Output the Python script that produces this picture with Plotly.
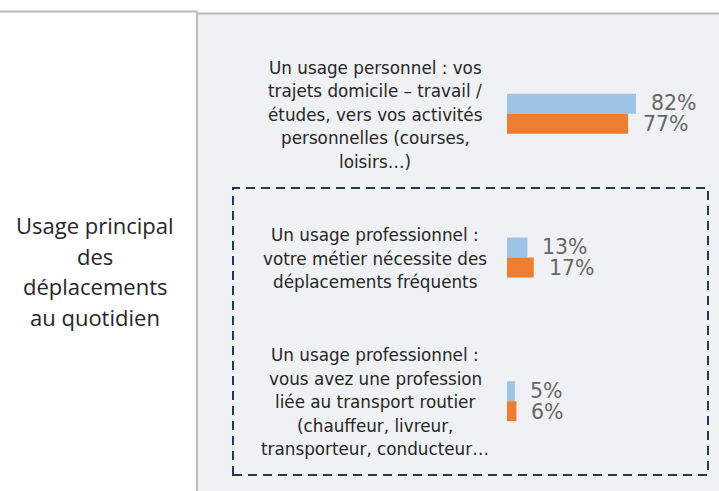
import plotly.graph_objects as go

categories = [
    "Un usage personnel : vos\ntrajets domicile – travail /\nétudes, vers vos activités\npersonnelles (courses,\nloisirs…)",
    "Un usage professionnel :\nvotre métier nécessite des\ndéplacements fréquents",
    "Un usage professionnel :\nvous avez une profession\nliée au transport routier\n(chauffeur, livreur,\ntransporteur, conducteur…",
]
series_a = [82, 13, 5]   # light blue
series_b = [77, 17, 6]   # orange
row_title = "Usage principal\ndes\ndéplacements\nau quotidien"

W, H = 719, 491
BLUE = "#9DC3E6"
ORANGE = "#ED7D31"
TXT = "#262626"
VAL = "#666666"
CAT_FONT = "DejaVu Sans"
VAL_FONT = "DejaVu Sans"

fig = go.Figure()
for vals, col in [(series_a, BLUE), (series_b, ORANGE)]:
    fig.add_trace(go.Bar(
        x=vals, y=categories, orientation="h",
        marker=dict(color=col, line=dict(width=0)),
        hoverinfo="skip",
    ))

# value labels
for vals, shift in [(series_a, 10.5), (series_b, -10.5)]:
    for v, c in zip(vals, categories):
        fig.add_annotation(
            x=v, y=c, xref="x", yref="y", text=f"{v}%", showarrow=False,
            xanchor="left", yanchor="middle", xshift=13, yshift=shift,
            font=dict(family=VAL_FONT, size=20.5, color=VAL),
        )

# category labels, one annotation per line
LINE = 23.5
for c in categories:
    lines = c.split("\n")
    n = len(lines)
    for i, ln in enumerate(lines):
        off = (i - (n - 1) / 2) * LINE
        fig.add_annotation(
            x=375 / W, y=c, xref="paper", yref="y", text=ln, showarrow=False,
            xanchor="center", yanchor="middle", yshift=-off - 1,
            font=dict(family=CAT_FONT, size=16.8, color=TXT),
        )

# row title
tl = row_title.split("\n")
for i, ln in enumerate(tl):
    ypx = 271 + (i - (len(tl) - 1) / 2) * 30.5
    fig.add_annotation(
        x=95 / W, y=1 - ypx / H, xref="paper", yref="paper", text=ln,
        showarrow=False, xanchor="center", yanchor="middle",
        font=dict(family="Open Sans", size=22, color=TXT),
    )

def px(x):
    return x / W

def py(y):
    return 1 - y / H

shapes = [
    # grey panel
    dict(type="rect", xref="paper", yref="paper", x0=px(197), x1=1, y0=0, y1=py(14),
         fillcolor="#F0F1F4", line=dict(width=0), layer="below"),
    # top borders
    dict(type="line", xref="paper", yref="paper", x0=0, x1=px(197), y0=py(11.5), y1=py(11.5),
         line=dict(color="#B7B7B7", width=2)),
    dict(type="line", xref="paper", yref="paper", x0=px(197), x1=1, y0=py(13.5), y1=py(13.5),
         line=dict(color="#B7B7B7", width=2)),
    # vertical separator
    dict(type="line", xref="paper", yref="paper", x0=px(197), x1=px(197), y0=0, y1=py(11),
         line=dict(color="#BDBDBD", width=2)),
    # dashed box
    dict(type="rect", xref="paper", yref="paper", x0=px(233), x1=px(708), y0=py(475), y1=py(188),
         line=dict(color="#203A55", width=2, dash="9px,6px"), fillcolor="rgba(0,0,0,0)"),
]

x0px = 507
pxper = 1.573
fig.update_layout(
    width=W, height=H,
    margin=dict(l=0, r=0, t=0, b=0, autoexpand=False),
    paper_bgcolor="white", plot_bgcolor="rgba(0,0,0,0)",
    barmode="group", bargap=0.722, bargroupgap=0,
    showlegend=False,
    shapes=shapes,
    xaxis=dict(domain=[x0px / W, 1], range=[0, (W - x0px) / pxper],
               visible=False, fixedrange=True),
    yaxis=dict(domain=[1 - 473 / H, 1 - 42 / H], autorange="reversed",
               visible=False, fixedrange=True),
)

fig.write_html(
    "out.html",
    config={"displayModeBar": False},
    post_script="document.body.style.margin='0';document.body.style.overflow='hidden';",
)
